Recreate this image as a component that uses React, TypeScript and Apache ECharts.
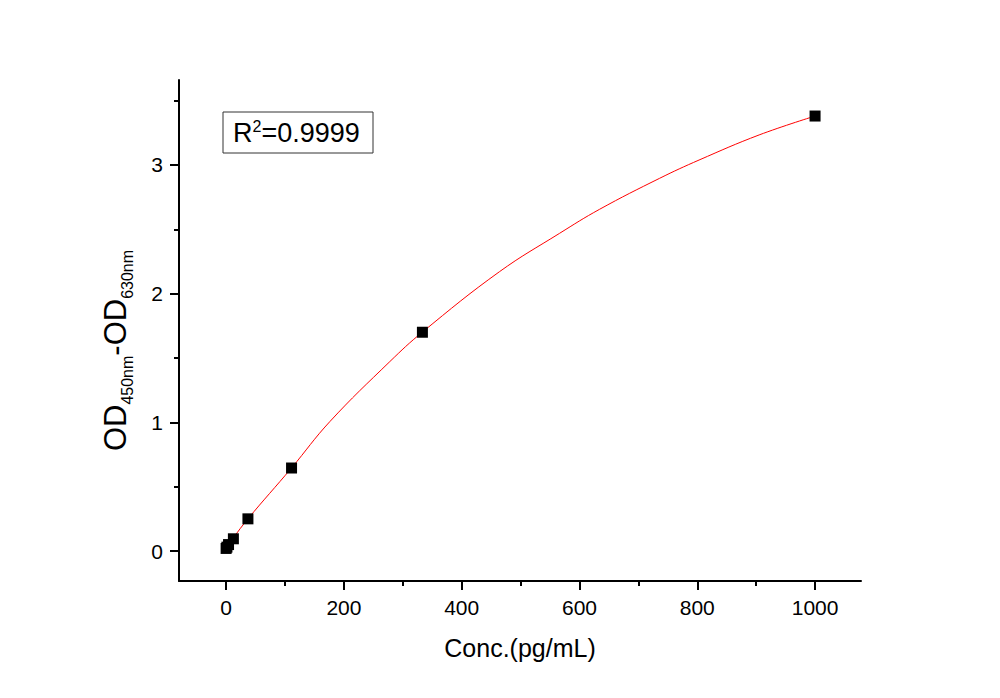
import React, { useEffect, useRef } from "react";
import * as echarts from "echarts";

// Measured standards (concentration pg/mL, OD450-OD630)
const concentrations = [0, 1.37, 4.12, 12.35, 37.04, 111.1, 333.3, 1000];
const odValues = [0.02, 0.03, 0.05, 0.095, 0.25, 0.645, 1.70, 3.38];

// Fitted curve
const curveX = [0, 12, 37, 111, 176, 278, 333, 464, 566, 634, 736, 803, 905, 1000];
const curveY = [0.02, 0.1, 0.25, 0.645, 1.005, 1.472, 1.70, 2.17, 2.468, 2.655, 2.896, 3.038, 3.233, 3.38];

const xMajorTicks = [0, 200, 400, 600, 800, 1000];
const xMinorTicks = [100, 300, 500, 700, 900];
const yMajorTicks = [0, 1, 2, 3];
const yMinorTicks = [0.5, 1.5, 2.5, 3.5];

const FONT = "'Liberation Sans', Arial, sans-serif";

export default function App() {
  const ref = useRef<HTMLDivElement>(null);
  useEffect(() => {
    if (!ref.current) return;
    const chart = echarts.init(ref.current, null, { renderer: "svg" });
    const axisCommon = { lineStyle: { color: "#000", width: 2 } };
    chart.setOption({
      animation: false,
      backgroundColor: "#fff",
      textStyle: { fontFamily: FONT },
      grid: { left: 179, right: 139, top: 80, bottom: 117, containLabel: false },
      xAxis: [
        {
          type: "value",
          min: -80,
          max: 1078,
          position: "bottom",
          splitLine: { show: false },
          axisLine: { show: true, onZero: false, ...axisCommon },
          axisTick: { show: true, inside: false, length: 9, customValues: xMajorTicks, lineStyle: { color: "#000", width: 2 } },
          axisLabel: {
            customValues: xMajorTicks,
            fontSize: 21,
            color: "#000",
            margin: 16,
            fontFamily: FONT,
            formatter: (v: number) => String(v),
          },
          name: "Conc.(pg/mL)",
          nameLocation: "middle",
          nameGap: 54,
          nameTextStyle: { fontSize: 25, color: "#000", fontFamily: FONT },
        },
        {
          type: "value",
          min: -80,
          max: 1078,
          position: "bottom",
          offset: 0,
          splitLine: { show: false },
          axisLine: { show: false, onZero: false },
          axisTick: { show: true, inside: false, length: 5, customValues: xMinorTicks, lineStyle: { color: "#000", width: 2 } },
          axisLabel: { show: false },
        },
      ],
      yAxis: [
        {
          type: "value",
          min: -0.233,
          max: 3.66,
          position: "left",
          splitLine: { show: false },
          axisLine: { show: true, onZero: false, ...axisCommon },
          axisTick: { show: true, inside: false, length: 9, customValues: yMajorTicks, lineStyle: { color: "#000", width: 2 } },
          axisLabel: {
            customValues: yMajorTicks,
            fontSize: 21,
            color: "#000",
            margin: 16,
            fontFamily: FONT,
            formatter: (v: number) => String(v),
          },
          name: "{m|OD}{s|450nm}{m|-OD}{s|630nm}",
          nameLocation: "middle",
          nameGap: 44,
          nameRotate: 90,
          nameTextStyle: {
            color: "#000",
            fontFamily: FONT,
            padding: [0, 40, 0, 0],
            rich: {
              m: { fontSize: 31, lineHeight: 40, color: "#000", fontFamily: FONT },
              s: { fontSize: 16, lineHeight: 14, verticalAlign: "bottom", color: "#000", fontFamily: FONT },
            },
          },
        },
        {
          type: "value",
          min: -0.233,
          max: 3.66,
          position: "left",
          offset: 0,
          splitLine: { show: false },
          axisLine: { show: false, onZero: false },
          axisTick: { show: true, inside: false, length: 5, customValues: yMinorTicks, lineStyle: { color: "#000", width: 2 } },
          axisLabel: { show: false },
        },
      ],
      series: [
        {
          type: "line",
          name: "fit",
          data: curveX.map((x, i) => [x, curveY[i]]),
          smooth: 0.4,
          showSymbol: false,
          symbol: "none",
          lineStyle: { color: "#ff0000", width: 1 },
          z: 2,
        },
        {
          type: "scatter",
          name: "standards",
          data: concentrations.map((x, i) => [x, odValues[i]]),
          symbol: "rect",
          symbolSize: 11,
          itemStyle: { color: "#000", opacity: 1 },
          z: 3,
        },
      ],
      graphic: [
        {
          type: "rect",
          shape: { x: 223, y: 112, width: 150, height: 41 },
          style: { fill: "#fff", stroke: "#333", lineWidth: 1 },
          z: 10,
        },
        {
          type: "text",
          x: 233,
          y: 133,
          z: 11,
          style: {
            text: "{m|R}{p|2}{m|=0.9999}",
            verticalAlign: "middle",
            align: "left",
            fill: "#000",
            rich: {
              m: { fontSize: 27, lineHeight: 30, fontFamily: FONT, fill: "#000" },
              p: { fontSize: 16, lineHeight: 14, verticalAlign: "top", fontFamily: FONT, fill: "#000" },
            },
          },
        },
      ],
    });
    return () => chart.dispose();
  }, []);
  return (
    <div
      ref={ref}
      style={{ position: "fixed", left: 0, top: 0, width: 1000, height: 698, background: "#fff" }}
    />
  );
}
